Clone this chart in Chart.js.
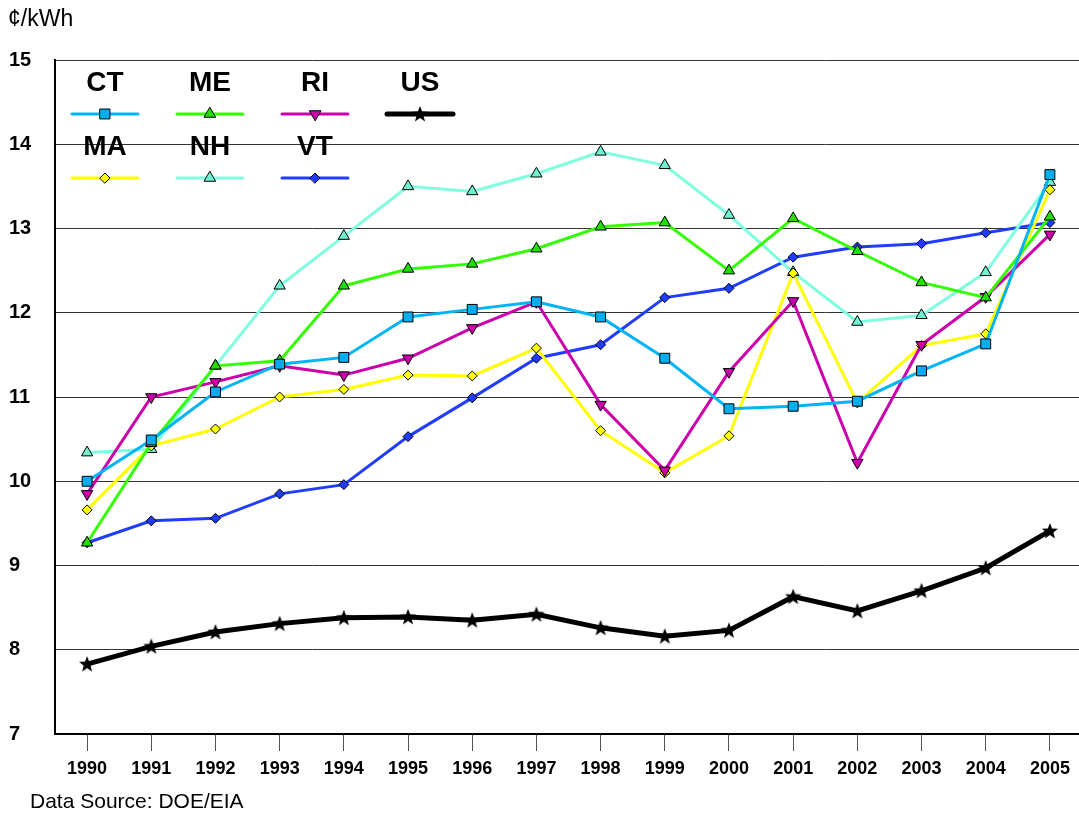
<!DOCTYPE html>
<html>
<head>
<meta charset="utf-8">
<script src="https://cdn.jsdelivr.net/npm/chart.js@4/dist/chart.umd.min.js"></script>
<style>
  html, body { margin: 0; padding: 0; background: #fff; overflow: hidden; }
  #wrap { position: relative; width: 1090px; height: 816px; }
</style>
</head>
<body>
<div id="wrap"><canvas id="priceChart" width="1090" height="816"></canvas></div>
<script>
const years = ['1990', '1991', '1992', '1993', '1994', '1995', '1996', '1997',
               '1998', '1999', '2000', '2001', '2002', '2003', '2004', '2005'];

const ct = [10.00, 10.49, 11.06, 11.39, 11.47, 11.95, 12.04, 12.13, 11.95, 11.46, 10.86, 10.89, 10.95, 11.31, 11.63, 13.64];
const me = [9.27, 10.45, 11.37, 11.43, 12.32, 12.52, 12.58, 12.76, 13.02, 13.07, 12.50, 13.12, 12.73, 12.36, 12.18, 13.14];
const ri = [9.85, 11.00, 11.18, 11.37, 11.26, 11.46, 11.82, 12.13, 10.91, 10.13, 11.30, 12.14, 10.22, 11.62, 12.19, 12.93];
const us = [7.83, 8.04, 8.21, 8.31, 8.38, 8.39, 8.35, 8.42, 8.26, 8.16, 8.23, 8.63, 8.46, 8.70, 8.97, 9.41];
const ma = [9.66, 10.42, 10.62, 11.00, 11.09, 11.26, 11.25, 11.58, 10.60, 10.10, 10.54, 12.47, 10.93, 11.61, 11.75, 13.46];
const nh = [10.34, 10.38, 11.37, 12.32, 12.91, 13.50, 13.44, 13.65, 13.91, 13.75, 13.16, 12.48, 11.89, 11.97, 12.48, 13.55];
const vt = [9.27, 9.53, 9.56, 9.85, 9.96, 10.53, 10.99, 11.46, 11.62, 12.18, 12.29, 12.66, 12.78, 12.82, 12.95, 13.07];

const FONT = "'Liberation Sans', Arial, sans-serif";

// filled five point star used for the US series
const makeStar = () => {
    const c = document.createElement('canvas');
    c.width = 18; c.height = 18;
    const g = c.getContext('2d');
    g.fillStyle = '#000';
    g.beginPath();
    for (let i = 0; i < 10; i++) {
        const r = i % 2 === 0 ? 8.5 : 3.6;
        const a = -Math.PI / 2 + i * Math.PI / 5;
        const px = 9 + r * Math.cos(a), py = 9.5 + r * Math.sin(a);
        if (i === 0) g.moveTo(px, py); else g.lineTo(px, py);
    }
    g.closePath();
    g.fill();
    return c;
};
const star = makeStar();

const series = (label, data, line, fill, style, extra) => Object.assign({
    label: label,
    data: data,
    borderColor: line,
    backgroundColor: fill,
    borderWidth: 3,
    pointStyle: style,
    pointRadius: 6,
    pointBackgroundColor: fill,
    pointBorderColor: '#000',
    pointBorderWidth: 1,
    tension: 0
}, extra || {});

const datasets = [
    series('CT', ct, '#00B4F5', '#00AEEF', 'rect', { pointRadius: 7 }),
    series('ME', me, '#33FF00', '#22DD00', 'triangle', { pointRadius: 6.5 }),
    series('RI', ri, '#CC00AA', '#CC00AA', 'triangle', { pointRotation: 180, pointRadius: 6.5 }),
    series('US', us, '#000000', '#000000', star, { borderWidth: 5 }),
    series('MA', ma, '#FFFF00', '#FFFF00', 'rectRot', { pointRadius: 5 }),
    series('NH', nh, '#80FFE0', '#70F0D0', 'triangle', { pointRadius: 6.5 }),
    series('VT', vt, '#1F3CFF', '#1F3CFF', 'rectRot', { pointRadius: 5 })
];

const drawMarker = (ctx, ds, x, y) => {
    const opts = {
        pointStyle: ds.pointStyle,
        rotation: ds.pointRotation || 0,
        radius: ds.pointRadius,
        borderWidth: ds.pointBorderWidth
    };
    ctx.save();
    ctx.fillStyle = ds.pointBackgroundColor;
    ctx.strokeStyle = ds.pointBorderColor;
    ctx.lineWidth = ds.pointBorderWidth;
    Chart.helpers.drawPoint(ctx, opts, x, y);
    ctx.restore();
};

const decorations = {
    id: 'decorations',
    afterDraw(chart) {
        const ctx = chart.ctx;
        ctx.save();
        ctx.fillStyle = '#000';
        ctx.textBaseline = 'middle';
        ctx.textAlign = 'left';
        ctx.font = '23px ' + FONT;
        ctx.fillText('\u00A2/kWh', 8, 20);
        ctx.font = '21px ' + FONT;
        ctx.fillText('Data Source: DOE/EIA', 30, 802);

        // legend block inside the plot
        chart.data.datasets.forEach((ds, i) => {
            const col = i % 4, row = Math.floor(i / 4);
            const cx = 105 + col * 105;
            const ty = 83 + row * 64;
            const ly = 114 + row * 64;
            ctx.fillStyle = '#000';
            ctx.textAlign = 'center';
            ctx.font = 'bold 28px ' + FONT;
            ctx.fillText(ds.label, cx, ty);
            ctx.strokeStyle = ds.borderColor;
            ctx.lineWidth = ds.borderWidth;
            ctx.lineCap = 'round';
            ctx.beginPath();
            ctx.moveTo(cx - 33, ly);
            ctx.lineTo(cx + 33, ly);
            ctx.stroke();
            drawMarker(ctx, ds, cx, ly);
        });
        ctx.restore();
    }
};

new Chart(document.getElementById('priceChart'), {
    type: 'line',
    data: { labels: years, datasets: datasets },
    options: {
        responsive: false,
        animation: false,
        layout: { padding: { left: 9, top: 60, right: 6, bottom: 0 } },
        plugins: { legend: { display: false }, tooltip: { enabled: false } },
        scales: {
            x: {
                type: 'category',
                offset: true,
                afterFit: (scale) => { scale.height = 82; },
                grid: { drawOnChartArea: false, drawTicks: true, tickLength: 17, color: '#555', offset: false },
                border: { color: '#000', width: 2 },
                ticks: { color: '#000', font: { family: FONT, size: 18, weight: 'bold' }, padding: 7, maxRotation: 0, autoSkip: false }
            },
            y: {
                min: 7,
                max: 15,
                afterFit: (scale) => { scale.width = 46; },
                grid: { color: '#333', lineWidth: 1, drawTicks: false },
                border: { color: '#000', width: 2 },
                ticks: { stepSize: 1, color: '#000', crossAlign: 'far', font: { family: FONT, size: 20, weight: 'bold' } }
            }
        }
    },
    plugins: [decorations]
});
</script>
</body>
</html>
